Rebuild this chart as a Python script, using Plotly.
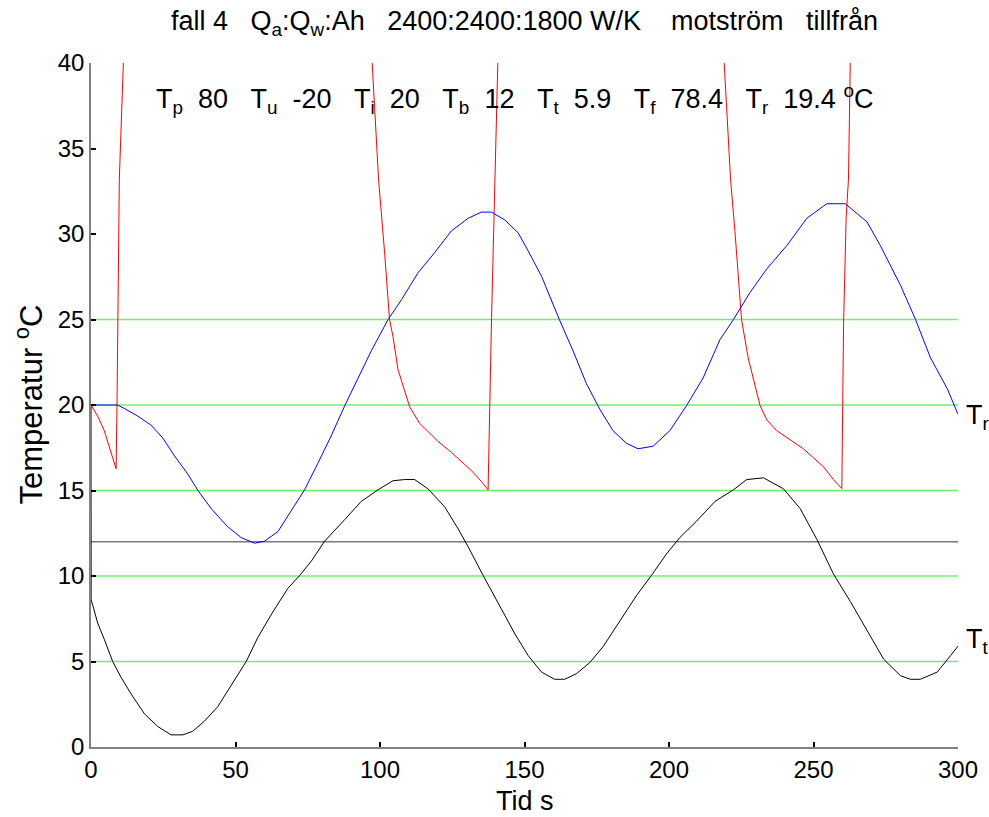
import plotly.graph_objects as go

# ---------------- data ----------------
# T_t (black)
tt_x = [0, 0.05, 0.6, 2.3, 4.6, 7.5, 10.4, 13.9, 18.5, 23.1, 27.7, 31.8, 35.2, 39.3, 43.9, 48.5,
        53.7, 57.7, 62.9, 68.1, 72.2, 76.2, 80.8, 87.8, 93.5, 99.3, 104.5, 108.5, 112.0, 116.6,
        122.4, 127.0, 130.5, 135.7, 142.0, 146.7, 151.3, 155.9, 160.4, 163.9, 167.9, 172.5,
        177.2, 182.9, 188.7, 193.9, 199.1, 203.7, 209.5, 215.9, 222.3, 226.9, 232.7, 239.6,
        245.4, 251.2, 256.9, 262.7, 268.5, 274.3, 280.1, 283.5, 287.0, 292.8, 297.4, 300]
tt_y = [20, 8.6, 8.3, 7.25, 6.3, 5.0, 4.07, 3.1, 1.94, 1.2, 0.71, 0.71, 0.92, 1.52, 2.37, 3.64,
        5.0, 6.4, 7.89, 9.27, 10.03, 10.86, 12.03, 13.3, 14.36, 15.04, 15.57, 15.64, 15.64, 15.1,
        14.04, 12.77, 11.71, 10.03, 8.1, 6.61, 5.34, 4.38, 3.96, 3.96, 4.28, 4.92,
        5.87, 7.36, 8.84, 10.03, 11.28, 12.24, 13.2, 14.36, 15.04, 15.64, 15.74, 15.1,
        13.94, 12.13, 10.12, 8.52, 6.83, 5.13, 4.17, 3.96, 3.96, 4.38, 5.34, 5.9]

# T_r (blue)
tr_x = [0, 9.2, 11.5, 16.2, 20.8, 24.8, 28.9, 33.5, 37.0, 41.6, 47.3, 52.0, 56.6, 60.0, 64.7,
        69.3, 73.9, 78.5, 83.1, 87.8, 92.4, 97.0, 102.8, 107.4, 113.2, 118.9, 124.7, 130.5,
        135.1, 138.6, 143.2, 147.8, 151.3, 155.9, 162.1, 166.8, 171.4, 176.0, 180.6, 185.3,
        189.3, 194.5, 200.3, 206.1, 211.8, 217.6, 222.3, 228.0, 233.8, 240.8, 247.7, 254.6,
        261.0, 268.5, 273.1, 280.1, 285.3, 290.5, 296.3, 300]
tr_y = [20, 20, 19.8, 19.35, 18.82, 18.08, 17.02, 15.96, 15.0, 13.94, 12.88, 12.24, 11.92, 12.03,
        12.6, 13.83, 15.04, 16.59, 18.19, 19.96, 21.58, 23.17, 25.0, 26.15, 27.74, 28.91, 30.18,
        30.92, 31.28, 31.28, 30.82, 30.07, 29.0, 27.53, 24.98, 23.17, 21.26, 19.77, 18.5, 17.76,
        17.44, 17.59, 18.5, 19.97, 21.58, 23.81, 25.0, 26.57, 27.95, 29.33, 30.92, 31.77,
        31.77, 30.71, 29.33, 27.0, 25.0, 22.75, 20.95, 19.46]

# T_f (red) - goes far above the visible range between the jumps
tf_x = [0, 2.3, 4.6, 6.4, 7.5, 8.7, 9.0, 9.8, 11.2, 12.5, 14, 17, 25, 60, 85, 93, 97.3, 99.5,
        101.6, 103.3, 104.5, 106.2, 108.5, 110.3, 113.7, 120.1, 124.7, 128.2, 131.6, 135.1,
        137.4, 138.6, 139.7, 140.7, 141.5, 143, 146, 153, 185, 208, 215, 219.1, 221.3, 222.8,
        224.5, 225.1, 227.4, 229.8, 231.5, 233.8, 237.3, 241.9, 246.5, 250.0, 253.5, 256.9,
        259.8, 260.4, 261.3, 262.1, 262.6, 263.5, 265, 268, 275, 300]
tf_y = [20, 19.35, 18.5, 17.44, 16.91, 16.27, 20, 33.2, 40, 55, 68, 76, 79.5, 79, 70, 55, 40, 33.2,
        28.9, 25.0, 24.0, 22.1, 20.84, 19.88, 18.93, 17.87, 17.23, 16.7, 16.17, 15.53,
        15.04, 25.1, 33.2, 40, 50, 65, 76, 79.5, 79, 70, 55, 40, 33.2, 30.2,
        26.1, 25.0, 22.75, 21.05, 19.97, 19.14, 18.5, 17.97, 17.44, 16.91, 16.38, 15.64,
        15.11, 24.7, 31.0, 33.2, 40, 50, 65, 76, 79.5, 78.4]

ref_levels = [5, 10, 15, 20, 25]
T_b = 12
t_range = [0, 300]

param_names = ["p", "u", "i", "b", "t", "f", "r"]
param_values = ["80", "-20", "20", "12", "5.9", "78.4", "19.4"]

x_ticks = [0, 50, 100, 150, 200, 250, 300]
y_ticks = [0, 5, 10, 15, 20, 25, 30, 35, 40]

FONT = "Liberation Sans, Arial, Helvetica, sans-serif"
NB = "\u00a0"

fig = go.Figure()

for lv in ref_levels:
    fig.add_trace(go.Scatter(x=t_range, y=[lv, lv], mode="lines",
                             line=dict(color="rgb(110,240,110)", width=1.6),
                             hoverinfo="skip", showlegend=False))
fig.add_trace(go.Scatter(x=t_range, y=[T_b, T_b], mode="lines",
                         line=dict(color="rgb(120,120,120)", width=1.6),
                         hoverinfo="skip", showlegend=False))
fig.add_trace(go.Scatter(x=tf_x, y=tf_y, mode="lines",
                         line=dict(color="#ff0000", width=1), showlegend=False))
fig.add_trace(go.Scatter(x=tt_x, y=tt_y, mode="lines",
                         line=dict(color="#000000", width=1), showlegend=False))
fig.add_trace(go.Scatter(x=tr_x, y=tr_y, mode="lines",
                         line=dict(color="#0000ff", width=1), showlegend=False))

# title
title = ("fall 4" + NB * 3 + "Q<sub>a</sub>:Q<sub>w</sub>:Ah" + NB * 3 + "2400:2400:1800 W/K"
         + NB * 4 + "motström" + NB * 3 + "tillfrån")
fig.add_annotation(text=title, xref="paper", yref="paper", x=0.5, y=1.058,
                   xanchor="center", yanchor="middle", showarrow=False,
                   font=dict(family=FONT, size=27, color="black"))

# parameter row
parts = []
for n, v in zip(param_names, param_values):
    parts.append("T<sub>" + n + "</sub>" + NB * 2 + v)
row = (NB * 3).join(parts) + NB + "<sup>o</sup>C"
fig.add_annotation(text=row, xref="paper", yref="paper", x=0.073, y=0.947,
                   xanchor="left", yanchor="middle", showarrow=False,
                   font=dict(family=FONT, size=27, color="black"))

# end labels
fig.add_annotation(text="T<sub>r</sub>", xref="paper", yref="y", x=1.007, y=19.3,
                   xanchor="left", yanchor="middle", showarrow=False,
                   font=dict(family=FONT, size=27, color="black"))
fig.add_annotation(text="T<sub>t</sub>", xref="paper", yref="y", x=1.007, y=6.2,
                   xanchor="left", yanchor="middle", showarrow=False,
                   font=dict(family=FONT, size=27, color="black"))

# axis titles
fig.add_annotation(text="Temperatur <sup>o</sup>C", xref="paper", yref="paper",
                   x=-0.072, y=0.5, textangle=-90, xanchor="center", yanchor="middle",
                   showarrow=False, font=dict(family=FONT, size=31, color="black"))
fig.add_annotation(text="Tid s", xref="paper", yref="paper", x=0.5, y=-0.079,
                   xanchor="center", yanchor="middle", showarrow=False,
                   font=dict(family=FONT, size=27, color="black"))

axis_common = dict(showgrid=False, zeroline=False, showline=True,
                   linecolor="rgb(128,128,128)", linewidth=1.5,
                   ticks="inside", ticklen=5, tickcolor="black", tickwidth=1.5,
                   tickfont=dict(family=FONT, size=24, color="black"), mirror=False)

fig.update_layout(
    width=989, height=817,
    margin=dict(l=91, r=31, t=63, b=70),
    paper_bgcolor="white", plot_bgcolor="white",
    xaxis=dict(range=t_range, tickvals=x_ticks, ticktext=[str(v) for v in x_ticks], **axis_common),
    yaxis=dict(range=[0, 40], tickvals=y_ticks, ticktext=[str(v) for v in y_ticks], **axis_common),
    showlegend=False,
)

fig.write_html("out.html", config={"displayModeBar": False},
               post_script="document.body.style.margin='0';document.body.style.overflow='hidden';")
